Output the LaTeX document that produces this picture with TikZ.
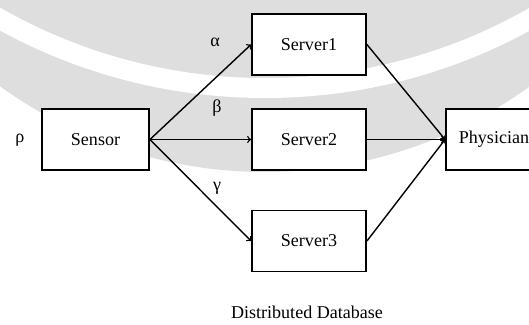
\documentclass[tikz,border=0pt]{standalone}
\usepackage{fontspec}
\setmainfont{Liberation Serif}
\usetikzlibrary{arrows,positioning}
\definecolor{wmgray}{RGB}{222,222,222}
\tikzset{box/.style={draw,fill=white,line width=1.6pt,minimum height=1.83cm,inner sep=0pt}}

\begin{document}
\begin{tikzpicture}
        \fontsize{15.4}{18}\selectfont
        \useasboundingbox (0,0) rectangle (15.87,9.72);
        % watermark
        \begin{scope}
          \clip (0,0) rectangle (15.87,9.72);
          \fill [wmgray] (7.95,18.12) circle (13.56);
          \fill [white,even odd rule] (7.95,23.37) circle (16.59) (7.95,23.37) circle (15.99);
        \end{scope}
        \node [box,minimum width=3.21cm] (S) at (2.865,5.535) {Sensor};
        \node [box,minimum width=3.42cm] (S1) at (9.27,8.385) {Server1};
        \node [box,minimum width=3.42cm] (S2) at (9.27,5.535) {Server2};
        \node [box,minimum width=3.42cm] (S3) at (9.27,2.49) {Server3};
        \node [box,minimum width=2.88cm] (P) at (14.82,5.535) {Physician};
        \node (r) at (0.6,5.52) {ρ};
        \node (a) at (6.45,8.46) {α};
        \node (b) at (6.51,6.48) {β};
        \node (g) at (6.51,4.08) {γ};
        \node (D) at (9.21,0.34) {Distributed Database};
        \draw [line width=1.2pt] [->] (S.east) -- (S1.west);
        \draw [line width=1.2pt] [->] (S.east) -- (S2.west);
        \draw [line width=1.2pt] [->] (S.east) -- (S3.west);
        \draw [line width=1.2pt] [->] (S1.east) -- (P.west);
        \draw [line width=1.2pt] [->] (S2.east) -- (P.west);
        \draw [line width=1.2pt] [->] (S3.east) -- (P.west);
      \end{tikzpicture}
\end{document}
